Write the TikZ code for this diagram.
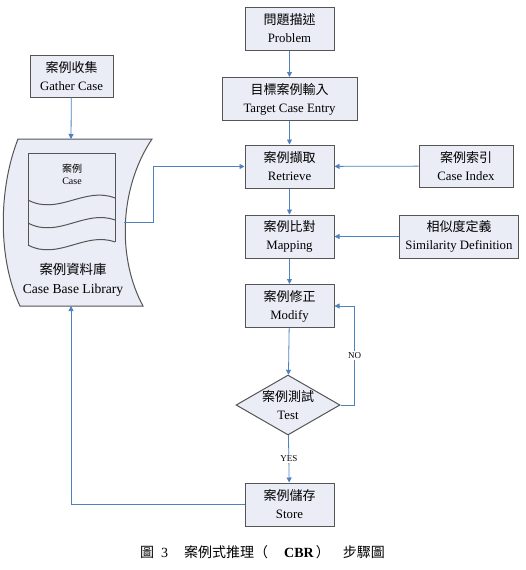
\documentclass[tikz,border=0pt]{standalone}
\usepackage{fontspec}
\setmainfont{Liberation Serif}
\newfontfamily\cjk{Noto Sans CJK TC}
\usetikzlibrary{shapes.geometric,arrows.meta}
\definecolor{boxfill}{RGB}{234,236,246}
\definecolor{boxline}{RGB}{85,85,85}
\definecolor{flowblue}{RGB}{79,129,189}
\newcommand{\zh}[1]{{\cjk\fontsize{13}{18}\selectfont #1}}
\newcommand{\zhcap}[1]{{\cjk\fontsize{14}{16}\selectfont #1}}
\tikzset{
	stepbox/.style={draw=boxline,fill=boxfill,line width=1pt,align=center,
		minimum width=89pt,minimum height=43pt,inner sep=1pt,
		font=\fontsize{12.8}{18}\selectfont},
	flow/.style={draw=flowblue,line width=0.8pt,-{Triangle[width=5pt,length=5pt]}},
	flowlabel/.style={fill=white,inner sep=1pt,font=\fontsize{9}{10}\selectfont}
}
\begin{document}
\begin{tikzpicture}[x=1pt,y=-1pt]
	\useasboundingbox (0,0) rectangle (526,570);
	% main column
	\node[stepbox] (problem) at (289.5,28.5) {\zh{問題描述}\\Problem};
	\node[stepbox,minimum width=135pt] (target) at (289.5,99) {\zh{目標案例輸入}\\Target Case Entry};
	\node[stepbox] (retrieve) at (289.5,166.5) {\zh{案例擷取}\\Retrieve};
	\node[stepbox] (mapping) at (289.5,236.5) {\zh{案例比對}\\Mapping};
	\node[stepbox] (modify) at (289.5,306) {\zh{案例修正}\\Modify};
	\node[diamond,draw=boxline,fill=boxfill,line width=1pt,minimum width=104pt,minimum height=60pt,inner sep=0pt] (test) at (288,405) {};
	\node[align=center,font=\fontsize{12.8}{18}\selectfont] (testtext) at (test) {\zh{案例測試}\\Test};
	\node[stepbox] (store) at (289.5,504.5) {\zh{案例儲存}\\Store};
	% side boxes
	\node[stepbox,minimum width=83pt,minimum height=42pt] (gather) at (71.5,76) {\zh{案例收集}\\Gather Case};
	\node[stepbox,minimum width=94pt,minimum height=42pt] (caseindex) at (466,166) {\zh{案例索引}\\Case Index};
	\node[stepbox,minimum width=119pt] (simdef) at (459,236.5) {\zh{相似度定義}\\Similarity Definition};
	% case base library
	\draw[boxline,fill=boxfill,line width=1pt] (18,139) -- (152,139)
		.. controls (118,190) and (118,260) .. (143,306) -- (20,306)
		.. controls (-2,260) and (-2,190) .. cycle;
	\draw[boxline,line width=1pt] (28,245) -- (28,153) -- (115,153) -- (115,242);
	\foreach \y/\e in {200/198,223/220,245/242}
		\draw[boxline,line width=1pt] (28,\y) .. controls (58,\y+16) and (85,\y-14) .. (115,\e);
	\node[align=center,font=\fontsize{10}{12}\selectfont] (casetext) at (72,174) {{\cjk\fontsize{10}{12}\selectfont 案例}\\Case};
	\node[align=center,font=\fontsize{13.6}{19}\selectfont] (library) at (73,280) {{\cjk\fontsize{13.4}{19}\selectfont 案例資料庫}\\Case Base Library};
	\path (71,139) coordinate (libtop)
		(124,222) coordinate (libright)
		(71,306) coordinate (libbottom);
	% connectors
	\draw[flow] (problem) -- (target);
	\draw[flow] (target) -- (retrieve);
	\draw[flow] (retrieve) -- (mapping);
	\draw[flow] (mapping) -- (modify);
	\draw[flow] (modify) -- (test);
	\draw[flow] (test) -- node[flowlabel] {YES} (store);
	\draw[flow] (test.east) -- ++(14,0) |- node[pos=0.25,flowlabel] {NO} (modify.east);
	\draw[flow] (caseindex) -- (retrieve);
	\draw[flow] (simdef) -- (mapping);
	\draw[flow] (gather) -- (libtop);
	\draw[flow] (store) -| (libbottom);
	\draw[flow] (libright) -- ++(29,0) |- (retrieve);
	% caption
	\node[font=\fontsize{14}{16}\selectfont,inner sep=0pt] (caption) at (262.5,552)
		{\zhcap{圖}\hspace{7pt}3\hspace{16pt}\zhcap{案例式推理（}\hspace{16pt}\textbf{CBR}\hspace{2pt}\zhcap{）}\hspace{13pt}\zhcap{步驟圖}};
\end{tikzpicture}
\end{document}
